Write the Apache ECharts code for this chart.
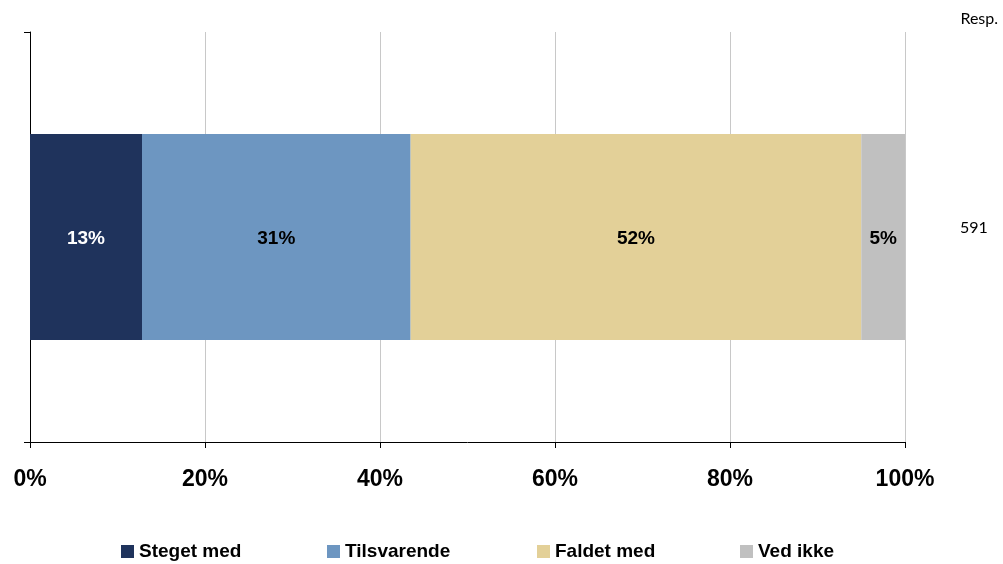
<!DOCTYPE html>
<html><head><meta charset="utf-8">
<script src="https://cdn.jsdelivr.net/npm/echarts@6/dist/echarts.min.js"></script>
<style>html,body{margin:0;padding:0;background:#fff}#c{width:1003px;height:564px}</style>
</head><body><div id="c"></div>
<script>
const categories = ['591'];
const seriesNames = ['Steget med', 'Tilsvarende', 'Faldet med', 'Ved ikke'];
const stegetMed = [12.8];
const tilsvarende = [30.7];
const faldetMed = [51.5];
const vedIkke = [5.0];
const xTicks = [0, 20, 40, 60, 80, 100];
const colors = ['#1F335C', '#6D96C1', '#E3D098', '#C0C0C0'];
const labelColors = ['#ffffff', '#000000', '#000000', '#000000'];
const values = [stegetMed, tilsvarende, faldetMed, vedIkke];
const legendLefts = [121, 327, 537, 740];

const chart = echarts.init(document.getElementById('c'));
const font = 'Liberation Sans, Arial, sans-serif';
chart.setOption({
  animation: false,
  grid: { left: 30, right: 98, top: 32, bottom: 122 },
  xAxis: {
    type: 'value', min: xTicks[0], max: xTicks[xTicks.length - 1], interval: 20,
    axisLine: { show: true, lineStyle: { color: '#000', width: 1 } },
    axisTick: { show: true, length: 6, lineStyle: { color: '#000' } },
    splitLine: { show: true, lineStyle: { color: '#c8c8c8', width: 1 } },
    axisLabel: { formatter: '{value}%', fontFamily: font, fontWeight: 'bold', fontSize: 23, color: '#000', margin: 26 }
  },
  yAxis: [{
    type: 'category', data: categories, position: 'left',
    axisLine: { show: true, lineStyle: { color: '#000', width: 1 } },
    axisTick: { show: true, length: 6, lineStyle: { color: '#000' } },
    axisLabel: { show: false }
  }, {
    type: 'category', data: categories, position: 'right',
    axisLine: { show: false }, axisTick: { show: false },
    axisLabel: { show: true, align: 'left', margin: 55, lineHeight: 18, formatter: v => v + '\n ', fontFamily: 'Lato, Open Sans, sans-serif', fontSize: 16, color: '#000' }
  }],
  legend: legendLefts.map((l, i) => ({
    data: [seriesNames[i]], left: l, top: 542, padding: 0, itemWidth: 13, itemHeight: 13, itemGap: 0,
    icon: 'rect', textStyle: { fontFamily: font, fontWeight: 'bold', fontSize: 19, color: '#000' }
  })),
  graphic: [{
    type: 'text', right: 5, top: 11,
    style: { text: 'Resp.', font: '16px Lato, "Open Sans", sans-serif', fill: '#000' }
  }],
  series: seriesNames.map((n, i) => ({
    name: n, type: 'bar', stack: 'total', barWidth: 206,
    data: values[i],
    itemStyle: { color: colors[i] },
    label: { show: true, position: 'inside', offset: [0, 2], formatter: p => Math.round(p.value) + '%', fontFamily: font, fontWeight: 'bold', fontSize: 19, color: labelColors[i] }
  }))
});
</script></body></html>
